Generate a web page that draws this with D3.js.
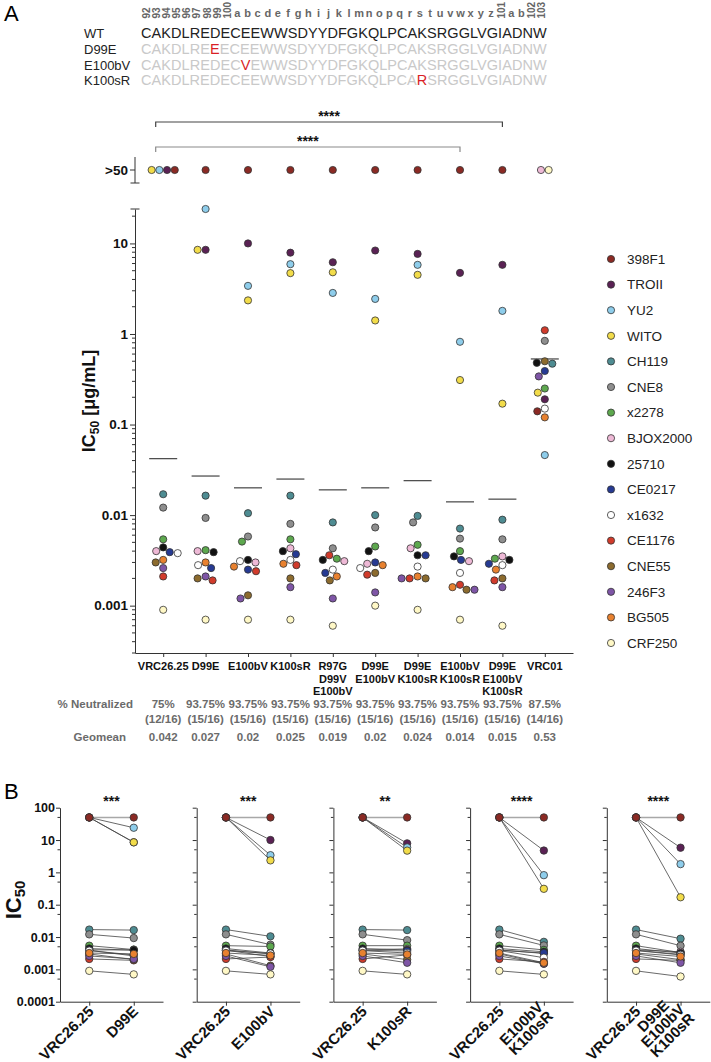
<!DOCTYPE html>
<html><head><meta charset="utf-8">
<script src="https://cdn.jsdelivr.net/npm/d3@7"></script>
<style>
body{margin:0;background:#fff}
svg{display:block}
text{font-family:"Liberation Sans",Arial,Helvetica,sans-serif}
</style>
</head><body>
<svg id="chart" width="711" height="1062"></svg>
<script>
// ---------------- DATA ----------------
const viruses = ["398F1","TROII","YU2","WITO","CH119","CNE8","x2278","BJOX2000","25710","CE0217","x1632","CE1176","CNE55","246F3","BG505","CRF250"];
const virusColors = ["#8b2a24","#5a2154","#8ecdeb","#f2dc4a","#4e8c92","#8e8e8e","#5da84e","#eeb9d6","#111111","#263a93","#ffffff","#d13b2b","#8c6b2e","#7e55a6","#e8812f","#fff8c6"];

const categories = ["VRC26.25","D99E","E100bV","K100sR","R97G D99V E100bV","D99E E100bV","D99E K100sR","E100bV K100sR","D99E E100bV K100sR","VRC01"];
const categoryLines = [["VRC26.25"],["D99E"],["E100bV"],["K100sR"],["R97G","D99V","E100bV"],["D99E","E100bV"],["D99E","K100sR"],["E100bV","K100sR"],["D99E","E100bV","K100sR"],["VRC01"]];

// IC50 (ug/mL) per virus, in the order of `viruses`; null = not neutralized (>50)
const ic50_VRC2625      = [null,null,null,null,0.017,0.0121,0.0054,0.0040,0.0044,0.0039,0.0038,0.0021,0.0030,0.0026,0.0032,0.0009];
const ic50_D99E         = [null,8.5,24,8.5,0.0164,0.0093,0.0041,0.0040,0.0039,0.0026,0.0028,0.0019,0.0020,0.0021,0.0030,0.0007];
const ic50_E100bV       = [null,10,3.4,2.35,0.0105,0.0058,0.0051,0.0030,0.0032,0.0025,0.0031,0.0024,0.0013,0.0012,0.0027,0.0007];
const ic50_K100sR       = [null,7.9,5.9,4.7,0.0164,0.0080,0.0054,0.0043,0.0040,0.0037,0.0032,0.0028,0.0020,0.0016,0.0029,0.0007];
const ic50_R97G_D99V_E100bV = [null,6.2,2.84,4.8,0.0083,0.0043,0.0033,0.0031,0.0032,0.0023,0.0025,0.0036,0.0019,0.0012,0.0021,0.0006];
const ic50_D99E_E100bV  = [null,8.35,2.44,1.41,0.0100,0.0073,0.0045,0.0029,0.0040,0.0030,0.0026,0.0022,0.0023,0.0014,0.0028,0.0010];
const ic50_D99E_K100sR  = [null,7.66,5.8,4.5,0.0098,0.0083,0.0047,0.0043,0.0036,0.0036,0.0027,0.0020,0.0020,0.0020,0.0021,0.0009];
const ic50_E100bV_K100sR = [null,4.73,0.82,0.31,0.0071,0.0055,0.0040,0.0031,0.0035,0.0032,0.0023,0.0017,0.0015,0.0015,0.0016,0.0007];
const ic50_D99E_E100bV_K100sR = [null,5.8,1.8,0.17,0.0089,0.0054,0.0033,0.0035,0.0032,0.0029,0.0028,0.0019,0.0020,0.0016,0.0025,0.0006];
const ic50_VRC01        = [0.14,0.19,0.046,0.225,0.47,0.84,0.25,null,0.48,0.39,0.15,1.10,0.50,0.34,0.12,null];
const columnValues = [ic50_VRC2625,ic50_D99E,ic50_E100bV,ic50_K100sR,ic50_R97G_D99V_E100bV,ic50_D99E_E100bV,ic50_D99E_K100sR,ic50_E100bV_K100sR,ic50_D99E_E100bV_K100sR,ic50_VRC01];

const geomeans = [0.042,0.027,0.02,0.025,0.019,0.02,0.024,0.014,0.015,0.53];
const pctNeutralized = ["75%","93.75%","93.75%","93.75%","93.75%","93.75%","93.75%","93.75%","93.75%","87.5%"];
const fracNeutralized = ["(12/16)","(15/16)","(15/16)","(15/16)","(15/16)","(15/16)","(15/16)","(15/16)","(15/16)","(14/16)"];
const yTicksA = [10,1,0.1,0.01,0.001];
const notNeutLabel = ">50";
const notNeutValue = 50;

const bracketTargets = ["D99E E100bV K100sR","E100bV K100sR"];
const bracketStars = ["****","****"];

const pairMutants = ["D99E","E100bV","K100sR","E100bV K100sR","D99E E100bV K100sR"];
const pairStars = ["***","***","**","****","****"];
const yTicksB = [100,10,1,0.1,0.01,0.001,0.0001];

const seqWT = "CAKDLREDECEEWWSDYYDFGKQLPCAKSRGGLVGIADNW";
const seqPositions = ["92","93","94","95","96","97","98","99","100","a","b","c","d","e","f","g","h","i","j","k","l","m","n","o","p","q","r","s","t","u","v","w","x","y","z","101","a","b","102","103"];
const seqVariants = ["WT","D99E","E100bV","K100sR"];
const seqMutIndex = [null,7,10,27];
const seqMutAA = [null,"E","V","R"];

// ---------------- DRAW ----------------
const svg = d3.select("#chart");
const FONT = '"Liberation Sans",Arial,sans-serif';
const AX = "#333";

// panel letters
svg.append("text").attr("x",4).attr("y",21).attr("font-size",22).text("A");
svg.append("text").attr("x",4).attr("y",799).attr("font-size",22).text("B");

// ---- sequence block ----
const seqX0 = 141, seqW = 405.7, slot = seqW/seqWT.length;
const seqRowsY = [38,54,69.5,85];
const seqG = svg.append("g");
seqPositions.forEach((p,i)=>{
  const cx = seqX0 + slot*(i+0.5);
  if (/^\d+$/.test(p)) {
    seqG.append("text").attr("transform",`translate(${cx+3.6},18.5) rotate(-90)`)
      .attr("font-size",10).attr("font-weight","bold").attr("fill","#666").text(p);
  } else {
    seqG.append("text").attr("x",cx).attr("y",17).attr("text-anchor","middle")
      .attr("font-size",11).attr("font-weight","bold").attr("fill","#666").text(p);
  }
});
seqVariants.forEach((v,r)=>{
  seqG.append("text").attr("x",84).attr("y",seqRowsY[r]).attr("font-size",13).attr("fill","#222").text(v);
  const t = seqG.append("text").attr("x",seqX0).attr("y",seqRowsY[r]).attr("font-size",14.5)
     .attr("textLength",seqW).attr("lengthAdjust","spacing");
  const base = r===0 ? "#222" : "#c9c9c9";
  const mi = seqMutIndex[r];
  if (mi==null) { t.append("tspan").attr("fill",base).text(seqWT); }
  else {
    t.append("tspan").attr("fill",base).text(seqWT.slice(0,mi));
    t.append("tspan").attr("fill","#d91f26").text(seqMutAA[r]);
    t.append("tspan").attr("fill",base).text(seqWT.slice(mi+1));
  }
});

// ---- panel A ----
const yA = d3.scaleLog().domain([0.0003,24]).range([653,209]);
const xA = d3.scalePoint().domain(categories).range([135,573]).padding(0.665);
const topY = 170;
const rA = 3.6;
const gA = svg.append("g");

// y axis (main)
const axA = gA.append("g").attr("transform","translate(135,0)")
  .call(d3.axisLeft(yA).tickValues(yTicksA).tickSize(5).tickSizeOuter(0).tickFormat(d=>String(d)));
axA.select(".domain").attr("stroke",AX);
axA.selectAll(".tick line").attr("stroke",AX);
axA.selectAll(".tick text").attr("font-size",13.5).attr("font-weight","bold").attr("fill","#111").attr("font-family",FONT).attr("x",-7);
// minor ticks
const [d0,d1] = yA.domain();
const minorA = [];
for (let e=-4;e<=1;e++) for (let m=2;m<=9;m++){ const v=m*Math.pow(10,e); if(v>=d0&&v<=d1) minorA.push(v); }
gA.selectAll(".mnA").data(minorA).join("line").attr("x1",132).attr("x2",135)
  .attr("y1",d=>yA(d)).attr("y2",d=>yA(d)).attr("stroke",AX);
// break caps
gA.append("line").attr("x1",130.5).attr("x2",139.5).attr("y1",yA(24)).attr("y2",yA(24)).attr("stroke",AX);
// upper segment for >50
gA.append("line").attr("x1",135).attr("x2",135).attr("y1",157).attr("y2",183).attr("stroke",AX);
gA.append("line").attr("x1",130.5).attr("x2",139.5).attr("y1",183).attr("y2",183).attr("stroke",AX);
gA.append("line").attr("x1",130).attr("x2",135).attr("y1",topY).attr("y2",topY).attr("stroke",AX);
gA.append("text").attr("x",128).attr("y",topY+4.8).attr("text-anchor","end").attr("font-size",13.5)
  .attr("font-weight","bold").attr("fill","#111").text(notNeutLabel);

// y title
const yt = gA.append("text").attr("transform","translate(95,401) rotate(-90)").attr("text-anchor","middle")
  .attr("font-size",18).attr("font-weight","bold").attr("fill","#111");
yt.append("tspan").text("IC");
yt.append("tspan").attr("font-size",12).attr("dy",4).text("50");
yt.append("tspan").attr("dy",-4).text(" [\u03bcg/mL]");

// x axis
const axXA = gA.append("g").attr("transform","translate(0,653)")
  .call(d3.axisBottom(xA).tickSize(4).tickSizeOuter(0).tickFormat(""));
axXA.select(".domain").attr("stroke",AX);
axXA.selectAll(".tick line").attr("stroke",AX);
categories.forEach((c,i)=>{
  categoryLines[i].forEach((ln,j)=>{
    gA.append("text").attr("x",xA(c)).attr("y",670+j*12.5).attr("text-anchor","middle")
      .attr("font-size",11).attr("font-weight","bold").attr("fill","#111").text(ln);
  });
});

// table
const tableG = svg.append("g").attr("fill","#6b6b6b").attr("font-weight","bold").attr("font-size",11.5);
tableG.append("text").attr("x",133).attr("y",708).attr("text-anchor","end").text("% Neutralized");
tableG.append("text").attr("x",126).attr("y",741).attr("text-anchor","end").text("Geomean");
categories.forEach((c,i)=>{
  tableG.append("text").attr("x",xA(c)).attr("y",708).attr("text-anchor","middle").text(pctNeutralized[i]);
  tableG.append("text").attr("x",xA(c)).attr("y",722.5).attr("text-anchor","middle").text(fracNeutralized[i]);
  tableG.append("text").attr("x",xA(c)).attr("y",741).attr("text-anchor","middle").text(geomeans[i]);
});

// geomean lines
gA.selectAll(".gm").data(categories).join("line")
  .attr("x1",d=>xA(d)-14).attr("x2",d=>xA(d)+14)
  .attr("y1",(d,i)=>yA(geomeans[i])).attr("y2",(d,i)=>yA(geomeans[i]))
  .attr("stroke","#444").attr("stroke-width",1.2);

// brackets
const bracketY = [122,147];
const bracketCol = ["#444","#8a8a8a"];
bracketTargets.forEach((t,i)=>{
  const xl = xA(categories[0])-7.5, xr = xA(t), y=bracketY[i];
  gA.append("path").attr("d",`M${xl},${y+5}V${y}H${xr}V${y+5}`).attr("fill","none")
    .attr("stroke",bracketCol[i]).attr("stroke-width",1.2);
  gA.append("text").attr("x",(xl+xr)/2).attr("y",y-1).attr("text-anchor","middle")
    .attr("font-size",14).attr("font-weight","bold").attr("fill","#111").text(bracketStars[i]);
});

// swarm layout
function swarm(values, cx, yScale, r){
  const pts=[];
  const idx = values.map((v,i)=>i).filter(i=>values[i]!=null).sort((a,b)=>values[b]-values[a]);
  for (const i of idx){
    const y = yScale(values[i]);
    let xx = cx;
    for (let k=0;k<400;k++){
      const off = (k%2===0?1:-1)*Math.ceil(k/2)*0.5;
      const x = cx+off;
      if (pts.every(p=>(p.x-x)**2+(p.y-y)**2 >= (2*r+0.6)**2)){ xx=x; break; }
    }
    pts.push({i,x:xx,y});
  }
  return pts;
}
categories.forEach((c,ci)=>{
  const vals = columnValues[ci];
  const cx = xA(c);
  const pts = swarm(vals,cx,yA,rA).sort((a,b)=>a.i-b.i);
  let tops = vals.map((v,i)=>i).filter(i=>vals[i]==null);
  if (tops.length>2) tops = tops.reverse();
  tops.forEach((vi,k)=>pts.push({i:vi, x: cx + (k-(tops.length-1)/2)*7.7, y: topY}));
  gA.append("g").selectAll("circle").data(pts).join("circle")
    .attr("cx",d=>d.x).attr("cy",d=>d.y).attr("r",rA)
    .attr("fill",d=>virusColors[d.i]).attr("stroke","#333").attr("stroke-width",0.8);
});

// legend
const lg = svg.append("g");
viruses.forEach((v,i)=>{
  const y = 259 + i*25.6;
  lg.append("circle").attr("cx",611).attr("cy",y).attr("r",3.6).attr("fill",virusColors[i]).attr("stroke","#333").attr("stroke-width",0.8);
  lg.append("text").attr("x",627).attr("y",y+4.8).attr("font-size",13.5).attr("fill","#222").text(v);
});

// ---- panel B ----
const yB = d3.scaleLog().domain([0.0001,100]).range([1001.7,807.7]);
const rB = 3.7;
pairMutants.forEach((mut,pi)=>{
  const ax = 60 + pi*136.7;
  const g = svg.append("g");
  const xB = d3.scalePoint().domain(["VRC26.25",mut]).range([ax,ax+103]).padding(0.657);
  const ya = g.append("g").attr("transform",`translate(${ax},0)`)
    .call(d3.axisLeft(yB).tickValues(yTicksB).tickSize(4).tickSizeOuter(0)
      .tickFormat(pi===0 ? (d=>String(d)) : ""));
  ya.select(".domain").attr("stroke",AX);
  ya.selectAll(".tick line").attr("stroke",AX);
  ya.selectAll(".tick text").attr("font-size",12.5).attr("font-weight","bold").attr("fill","#111").attr("font-family",FONT).attr("x",-5);
  const minorB = yTicksB.slice(1).map(d=>d*5);
  g.selectAll(".mn").data(minorB).join("line").attr("x1",ax-2.5).attr("x2",ax)
    .attr("y1",d=>yB(d)).attr("y2",d=>yB(d)).attr("stroke",AX);
  const xa = g.append("g").attr("transform","translate(0,1001.7)")
    .call(d3.axisBottom(xB).tickSize(4).tickSizeOuter(0).tickFormat(""));
  xa.select(".domain").attr("stroke",AX);
  xa.selectAll(".tick line").attr("stroke",AX);

  const v0 = ic50_VRC2625, v1 = columnValues[categories.indexOf(mut)];
  const x0 = xB("VRC26.25"), x1 = xB(mut);
  const val = v => v==null ? notNeutValue : v;
  g.append("g").selectAll("line").data(viruses.map((d,i)=>i)).join("line")
    .attr("x1",x0).attr("x2",x1).attr("y1",i=>yB(val(v0[i]))).attr("y2",i=>yB(val(v1[i])))
    .attr("stroke",i=>(v0[i]==null&&v1[i]==null)?"#a8a8a8":"#444")
    .attr("stroke-width",i=>(v0[i]==null&&v1[i]==null)?1.5:0.8);
  const pts = [];
  [[v0,x0],[v1,x1]].forEach(([vals,xx])=>{
    vals.forEach((v,i)=>{ if(v!=null) pts.push({i,x:xx,y:yB(v)}); });
    vals.map((v,i)=>i).filter(i=>vals[i]==null).reverse()
      .forEach(i=>pts.push({i,x:xx,y:yB(notNeutValue)}));
  });
  g.append("g").selectAll("circle").data(pts).join("circle")
    .attr("cx",d=>d.x).attr("cy",d=>d.y).attr("r",rB)
    .attr("fill",d=>virusColors[d.i]).attr("stroke","#333").attr("stroke-width",0.8);

  g.append("text").attr("x",(x0+x1)/2).attr("y",805.5).attr("text-anchor","middle")
    .attr("font-size",14).attr("font-weight","bold").attr("fill","#111").text(pairStars[pi]);

  // rotated labels: block of centred lines, right edge & vertical middle at anchor
  [["VRC26.25"], mut.split(" ")].forEach((lines,li)=>{
    const xt = li===0 ? x0 : x1;
    const n = lines.length;
    const lab = g.append("g").attr("transform",`translate(${xt+1.5},${n>2?1006:1008.5}) rotate(-45)`);
    const fs = 15, lh = 13.5;
    const tx = lines.map((s,j)=>lab.append("text").attr("y",(j-(n-1)/2)*lh + fs*0.36).attr("text-anchor","middle")
      .attr("font-size",fs).attr("font-weight","bold").attr("fill","#111").text(s));
    const W = d3.max(tx, t=>t.node().getComputedTextLength());
    tx.forEach(t=>t.attr("x",-W/2));
  });
});

// panel B y title
const ytB = svg.append("text").attr("transform","translate(21,900) rotate(-90)").attr("text-anchor","middle")
  .attr("font-size",22).attr("font-weight","bold").attr("fill","#111");
ytB.append("tspan").text("IC");
ytB.append("tspan").attr("font-size",15).attr("dy",4).text("50");
</script>
</body></html>
